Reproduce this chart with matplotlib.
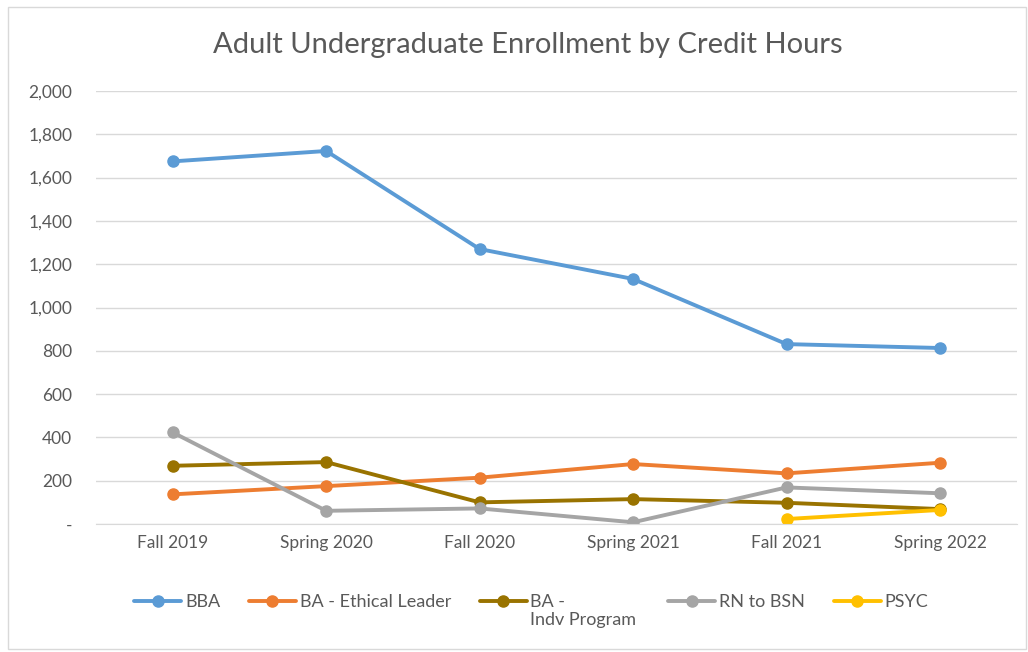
import matplotlib.pyplot as plt
from matplotlib.patches import Rectangle
from matplotlib.ticker import FuncFormatter

terms = ['Fall 2019', 'Spring 2020', 'Fall 2020', 'Spring 2021', 'Fall 2021', 'Spring 2022']

bba = [1675, 1723, 1270, 1132, 831, 813]
ba_ethical = [137, 175, 214, 277, 234, 283]
ba_indv = [269, 286, 100, 115, 98, 69]
rn_bsn = [423, 61, 72, 8, 169, 142]
psyc_terms = ['Fall 2021', 'Spring 2022']
psyc = [23, 65]

colors = ['#5b9bd5', '#ed7d31', '#997300', '#a5a5a5', '#ffc000']
text_color = '#595959'


def fmt(v, pos):
    return '-' if v == 0 else f'{int(v):,}'


def main() -> None:
    plt.rcParams['font.family'] = ['Lato', 'DejaVu Sans']
    fig = plt.figure(figsize=(10.28, 6.52), dpi=100)
    ax = fig.add_axes([0.0934, 0.1963, 0.8956, 0.6641])

    x = list(range(len(terms)))
    series = [
        (bba, x, 'BBA'),
        (ba_ethical, x, 'BA - Ethical Leader'),
        (ba_indv, x, 'BA -'),
        (rn_bsn, x, 'RN to BSN'),
        (psyc, [terms.index(t) for t in psyc_terms], 'PSYC'),
    ]
    for (vals, xs, label), c in zip(series, colors):
        ax.plot(xs, vals, color=c, lw=2.8, marker='o', ms=8, label=label,
                solid_capstyle='round')

    ax.set_xlim(-0.5, len(terms) - 0.5)
    ax.set_ylim(0, 2000)
    ax.set_yticks(range(0, 2001, 200))
    ax.yaxis.set_major_formatter(FuncFormatter(fmt))
    ax.set_xticks(x)
    ax.set_xticklabels(terms)
    ax.grid(axis='y', color='#d9d9d9', lw=1)
    ax.set_axisbelow(True)
    for s in ['top', 'right', 'left']:
        ax.spines[s].set_visible(False)
    ax.spines['bottom'].set_color('#d9d9d9')
    ax.tick_params(length=0, labelsize=12.5, colors=text_color, pad=8)
    ax.tick_params(axis='y', pad=17)

    fig.text(0.513, 0.931, 'Adult Undergraduate Enrollment by Credit Hours',
             ha='center', va='center', fontsize=21, color=text_color)

    # second line of the "BA - Indv Program" label sits under the legend entry;
    # pad the first line with spaces so the column is as wide as the second line
    second = fig.text(0, 0, 'Indv Program', ha='left', va='top', fontsize=13,
                      color=text_color)
    renderer = fig.canvas.get_renderer()
    width = second.get_window_extent(renderer).width
    label = 'BA -'
    probe = fig.text(0, 0, label, fontsize=13)
    while probe.get_window_extent(renderer).width < width:
        label += ' '
        probe.set_text(label)
    probe.remove()

    handles, labels = ax.get_legend_handles_labels()
    labels[2] = label
    leg = fig.legend(handles, labels, loc='upper left', bbox_to_anchor=(0.122, 0.103),
                     ncol=5, frameon=False, fontsize=13, handlelength=2.6, borderpad=0,
                     columnspacing=1.6, handletextpad=0.2, labelcolor=text_color)

    fig.canvas.draw()
    bb = leg.get_texts()[2].get_window_extent(renderer)
    second.set_position((bb.x0 / fig.bbox.width, (bb.y0 - 2) / fig.bbox.height))

    fig.patches.append(Rectangle((0.008, 0.005), 0.99, 0.985, transform=fig.transFigure,
                                 fill=False, edgecolor='#d9d9d9', lw=1))

    plt.savefig('out.png', dpi=100)


if __name__ == "__main__":
    main()
